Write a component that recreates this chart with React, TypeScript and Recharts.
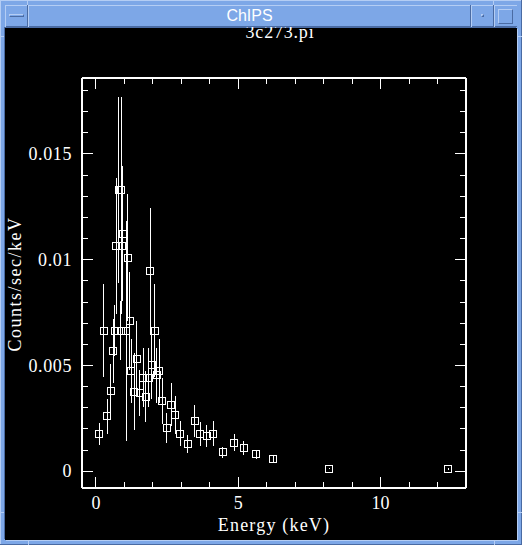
import React from 'react';
import { ScatterChart, Scatter, XAxis, YAxis, ErrorBar } from 'recharts';

// ---- data ----
const energy = [
  0.12, 0.28, 0.40, 0.52, 0.61, 0.66, 0.72, 0.80, 0.87, 0.89, 0.90, 0.95, 1.06, 1.12, 1.18,
  1.24, 1.35, 1.44, 1.53, 1.67, 1.75, 1.85, 1.91, 1.96, 2.06, 2.14, 2.22, 2.33, 2.48, 2.65,
  2.78, 2.96, 3.22, 3.47, 3.67, 3.89, 4.12, 4.46, 4.85, 5.19, 5.63, 6.23, 8.20, 12.38,
];
const counts = [
  0.00178, 0.00665, 0.0026, 0.0038, 0.00568, 0.00665, 0.01064, 0.0133, 0.00665, 0.0133, 0.01064, 0.01123, 0.00665, 0.0101, 0.0071,
  0.00473, 0.00377, 0.00531, 0.0037, 0.00443, 0.00353, 0.00443, 0.00946, 0.00503, 0.00665, 0.00454, 0.00473, 0.00332, 0.00205, 0.00315,
  0.00266, 0.00178, 0.00128, 0.00236, 0.00178, 0.00167, 0.00178, 0.0009, 0.00136, 0.0011, 0.0008, 0.00058, 0.00013, 0.00011,
];
const errors = [
  0.00052, 0.0022, 0.00083, 0.00126, 0.0015, 0.0012, 0.0032, 0.0044, 0.0014, 0.0044, 0.0032, 0.0032, 0.0052, 0.003, 0.0023,
  0.0015, 0.0018, 0.0018, 0.0011, 0.0014, 0.0012, 0.0014, 0.003, 0.0016, 0.0022, 0.0013, 0.0015, 0.0011, 0.00069, 0.001,
  0.00088, 0.0006, 0.00042, 0.00075, 0.00057, 0.00053, 0.00058, 0.00025, 0.00041, 0.00034, 0.00022, 0.0002, 0.00004, 0.00004,
];
const xTicks = [0, 1, 2, 3, 4, 5, 6, 7, 8, 9, 10, 11, 12, 13];
const yTicks = [0, 0.001, 0.002, 0.003, 0.004, 0.005, 0.006, 0.007, 0.008, 0.009, 0.01, 0.011, 0.012, 0.013, 0.014, 0.015, 0.016, 0.017, 0.018];
const yMajorLabels = ['0', '0.005', '0.01', '0.015'];
const xDomain: [number, number] = [-0.49, 13.0];
const yDomain: [number, number] = [-0.00079, 0.01859];

const data = energy.map((e, i) => ({ x: e, y: counts[i], err: errors[i] }));

const SERIF = '"Liberation Serif", "Times New Roman", serif';
const MAJ = 11;
const MIN = 6;

const isMult = (v: number, step: number) => {
  const r = v / step;
  return Math.abs(r - Math.round(r)) < 1e-6;
};

const BottomTick = (props: any) => {
  const { x, y, payload } = props;
  const v = payload.value;
  const major = isMult(v, 5);
  return (
    <g>
      <line x1={x} x2={x} y1={y} y2={y - (major ? MAJ : MIN)} stroke="#fff" strokeWidth={1} />
      {major ? (
        <text x={x} y={y + 21} fill="#fff" textAnchor="middle" fontFamily={SERIF} fontSize={18}>
          {String(v)}
        </text>
      ) : null}
    </g>
  );
};

const TopTick = (props: any) => {
  const { x, y, payload } = props;
  const major = isMult(payload.value, 5);
  return <line x1={x} x2={x} y1={y} y2={y + (major ? MAJ : MIN)} stroke="#fff" strokeWidth={1} />;
};

const LeftTick = (props: any) => {
  const { x, y, payload } = props;
  const v = payload.value;
  const major = isMult(v, 0.005);
  return (
    <g>
      <line x1={x} x2={x + (major ? MAJ : MIN)} y1={y} y2={y} stroke="#fff" strokeWidth={1} />
      {major ? (
        <text x={x - 10} y={y + 6} fill="#fff" textAnchor="end" fontFamily={SERIF} fontSize={18} letterSpacing={0.6}>
          {yMajorLabels[Math.round(v / 0.005)]}
        </text>
      ) : null}
    </g>
  );
};

const RightTick = (props: any) => {
  const { x, y, payload } = props;
  const major = isMult(payload.value, 0.005);
  return <line x1={x} x2={x - (major ? MAJ : MIN)} y1={y} y2={y} stroke="#fff" strokeWidth={1} />;
};

const Square = (props: any) => {
  const { cx, cy } = props;
  if (cx == null || cy == null) return null;
  return <rect x={Math.round(cx) - 3.5} y={Math.round(cy) - 3.5} width={7} height={7} fill="none" stroke="#fff" strokeWidth={1} />;
};

const Nothing = () => <g />;

const BLUE = '#7da7e7';
const LIGHT = '#b4cdf4';
const DARK = '#4a6ba3';

export default function App() {
  return (
    <div style={{ position: 'absolute', left: 0, top: 0, width: 522, height: 545, background: BLUE, overflow: 'hidden' }}>
      {/* outer frame edges */}
      <div style={{ position: 'absolute', left: 0, top: 0, width: 522, height: 1, background: LIGHT }} />
      <div style={{ position: 'absolute', left: 0, top: 0, width: 1, height: 545, background: LIGHT }} />
      <div style={{ position: 'absolute', left: 521, top: 0, width: 1, height: 545, background: DARK }} />
      <div style={{ position: 'absolute', left: 0, top: 544, width: 522, height: 1, background: DARK }} />
      {/* corner marks */}
      <div style={{ position: 'absolute', left: 27, top: 0, width: 1, height: 5, background: LIGHT }} />
      <div style={{ position: 'absolute', left: 493, top: 0, width: 1, height: 5, background: LIGHT }} />
      <div style={{ position: 'absolute', left: 28, top: 540, width: 1, height: 5, background: LIGHT }} />
      <div style={{ position: 'absolute', left: 494, top: 540, width: 1, height: 5, background: LIGHT }} />
      <div style={{ position: 'absolute', left: 0, top: 36, width: 5, height: 1, background: LIGHT }} />
      <div style={{ position: 'absolute', left: 517, top: 36, width: 5, height: 1, background: LIGHT }} />
      <div style={{ position: 'absolute', left: 0, top: 512, width: 5, height: 1, background: LIGHT }} />
      <div style={{ position: 'absolute', left: 517, top: 512, width: 5, height: 1, background: LIGHT }} />

      {/* black client area */}
      <div style={{ position: 'absolute', left: 5, top: 28, width: 512, height: 512, background: '#000', boxShadow: `-1px -1px 0 ${DARK}, 1px 1px 0 ${LIGHT}` }} />

      {/* chart */}
      <div style={{ position: 'absolute', left: 0, top: 0, shapeRendering: 'crispEdges' } as any}>
        <ScatterChart width={522} height={545} margin={{ top: 77, right: 55, bottom: 0, left: 0 }}>
          <XAxis
            xAxisId="b"
            dataKey="x"
            type="number"
            orientation="bottom"
            domain={xDomain}
            allowDataOverflow
            ticks={xTicks}
            interval={0}
            height={57}
            tickSize={0}
            tickMargin={0}
            tickLine={false}
            tick={BottomTick}
            axisLine={{ stroke: '#fff', strokeWidth: 1.5 }}
          />
          <XAxis
            xAxisId="t"
            dataKey="x"
            type="number"
            orientation="top"
            domain={xDomain}
            allowDataOverflow
            ticks={xTicks}
            interval={0}
            height={1}
            tickSize={0}
            tickMargin={0}
            tickLine={false}
            tick={TopTick}
            axisLine={{ stroke: '#fff', strokeWidth: 1.5 }}
          />
          <YAxis
            yAxisId="l"
            dataKey="y"
            type="number"
            orientation="left"
            domain={yDomain}
            allowDataOverflow
            ticks={yTicks}
            interval={0}
            width={82}
            tickSize={0}
            tickMargin={0}
            tickLine={false}
            tick={LeftTick}
            axisLine={{ stroke: '#fff', strokeWidth: 1.5 }}
          />
          <YAxis
            yAxisId="r"
            dataKey="y"
            type="number"
            orientation="right"
            domain={yDomain}
            allowDataOverflow
            ticks={yTicks}
            interval={0}
            width={1}
            tickSize={0}
            tickMargin={0}
            tickLine={false}
            tick={RightTick}
            axisLine={{ stroke: '#fff', strokeWidth: 1.5 }}
          />
          <Scatter data={data} xAxisId="b" yAxisId="l" shape={Square} isAnimationActive={false}>
            <ErrorBar dataKey="err" direction="y" width={0} stroke="#fff" strokeWidth={1} isAnimationActive={false} />
          </Scatter>
          <Scatter data={data} xAxisId="t" yAxisId="r" shape={Nothing} isAnimationActive={false} />
        </ScatterChart>
      </div>

      {/* texts */}
      <svg width={522} height={545} style={{ position: 'absolute', left: 0, top: 0, pointerEvents: 'none' }}>
        <text x={280} y={38} fill="#fff" textAnchor="middle" fontFamily={SERIF} fontSize={18} letterSpacing={0.8}>
          3c273.pi
        </text>
        <text x={274} y={531} fill="#fff" textAnchor="middle" fontFamily={SERIF} fontSize={18} letterSpacing={1.2}>
          Energy (keV)
        </text>
        <text
          x={21}
          y={284}
          fill="#fff"
          textAnchor="middle"
          fontFamily={SERIF}
          fontSize={18}
          letterSpacing={1.5}
          transform="rotate(-90 21 284)"
        >
          Counts/sec/keV
        </text>
      </svg>

      {/* title bar */}
      <div style={{ position: 'absolute', left: 5, top: 5, width: 512, height: 22, background: BLUE, borderTop: `1px solid ${LIGHT}`, borderBottom: `1px solid ${DARK}`, boxSizing: 'border-box' }} />
      <div style={{ position: 'absolute', left: 5, top: 5, width: 23, height: 22, borderRight: `1px solid ${DARK}`, borderLeft: `1px solid ${LIGHT}`, boxSizing: 'border-box' }} />
      <div style={{ position: 'absolute', left: 28, top: 5, width: 1, height: 22, background: LIGHT }} />
      <div style={{ position: 'absolute', left: 9, top: 14, width: 15, height: 3, background: BLUE, border: `1px solid ${DARK}`, borderTopColor: LIGHT, borderLeftColor: LIGHT, boxSizing: 'border-box' }} />
      <div style={{ position: 'absolute', left: 470, top: 5, width: 1, height: 22, background: DARK }} />
      <div style={{ position: 'absolute', left: 471, top: 5, width: 1, height: 22, background: LIGHT }} />
      <div style={{ position: 'absolute', left: 481, top: 14, width: 3, height: 3, border: `1px solid ${DARK}`, borderTopColor: LIGHT, borderLeftColor: LIGHT, boxSizing: 'border-box' }} />
      <div style={{ position: 'absolute', left: 493, top: 5, width: 1, height: 22, background: DARK }} />
      <div style={{ position: 'absolute', left: 494, top: 5, width: 1, height: 22, background: LIGHT }} />
      <div style={{ position: 'absolute', left: 498, top: 9, width: 15, height: 15, border: `1px solid ${DARK}`, borderTopColor: LIGHT, borderLeftColor: LIGHT, boxSizing: 'border-box' }} />
      <div
        style={{
          position: 'absolute',
          left: 29,
          top: 5,
          width: 441,
          height: 22,
          lineHeight: '22px',
          textAlign: 'center',
          color: '#fff',
          fontFamily: '"Liberation Sans", Arial, sans-serif',
          fontSize: 16,
        }}
      >
        ChIPS
      </div>
    </div>
  );
}
